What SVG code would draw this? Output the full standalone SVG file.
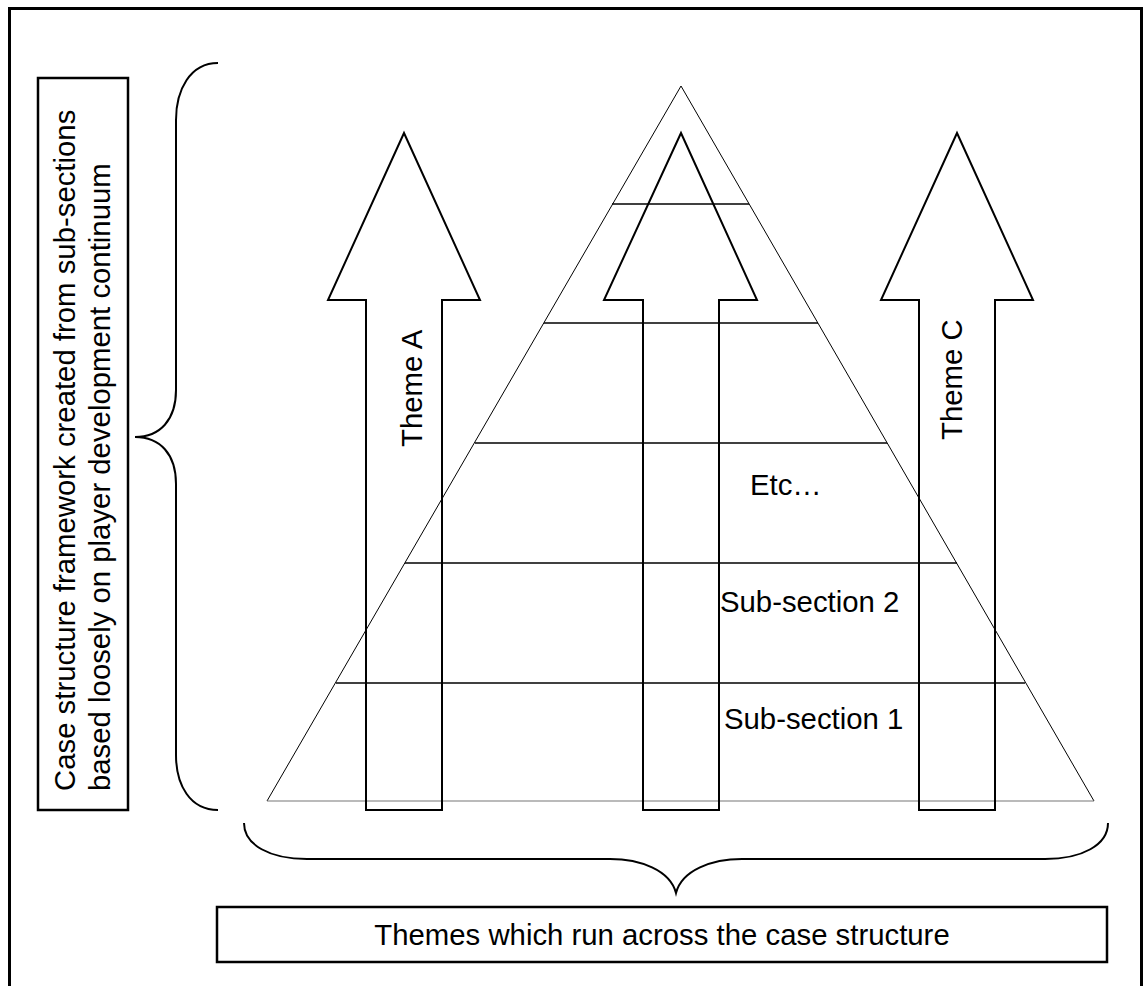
<svg xmlns="http://www.w3.org/2000/svg" width="1145" height="986" viewBox="0 0 1145 986">
<style>
.t{font-family:"Liberation Sans",Arial,sans-serif;font-size:29.33px;fill:#000}
.box{fill:#fff;stroke:#000;stroke-width:2.5}
.arrow{fill:none;stroke:#000;stroke-width:2}
.brace{fill:none;stroke:#000;stroke-width:2}
.tri{fill:none;stroke:#000;stroke-width:1}
.lvl{stroke:#000;stroke-width:1.6}
</style>
<rect x="0" y="0" width="1145" height="986" fill="#fff"/>
<rect id="frame" x="9.5" y="8.5" width="1132" height="1000" fill="none" stroke="#000" stroke-width="3"/>
<g id="pyramid">
  <polyline class="tri" points="267,801 681,86 1094,801"/>
  <line x1="267" y1="801" x2="1094" y2="801" stroke="#777" stroke-width="1.2"/>
  <line class="lvl" x1="612" y1="204" x2="749" y2="204"/>
  <line class="lvl" x1="544" y1="323" x2="818" y2="323"/>
  <line class="lvl" x1="475" y1="443" x2="887" y2="443"/>
  <line class="lvl" x1="405" y1="563" x2="957" y2="563"/>
  <line class="lvl" x1="336" y1="683" x2="1025" y2="683"/>
</g>
<g id="arrow-a">
  <polygon class="arrow" points="404,133 480,300 442,300 442,810 366,810 366,300 328,300"/>
  <text class="t" transform="translate(421.5,447) rotate(-90)">Theme A</text>
</g>
<g id="arrow-b">
  <polygon class="arrow" points="681,133 757,300 719,300 719,810 643,810 643,300 604,300"/>
</g>
<g id="arrow-c">
  <polygon class="arrow" points="957,133 1033,300 995,300 995,810 919,810 919,300 881,300"/>
  <text class="t" transform="translate(962,440) rotate(-90)">Theme C</text>
</g>
<g id="labels">
  <text class="t" x="750" y="495">Etc…</text>
  <text class="t" x="720" y="612">Sub-section 2</text>
  <text class="t" x="724" y="729">Sub-section 1</text>
</g>
<g id="connectors">
  <path class="brace" d="M218,63 C190,63 176,90 176,120 L176,390 C176,420 160,437 135,437 C160,437 176,454 176,484 L176,755 C176,785 190,810 218,810"/>
  <path class="brace" d="M244,823 C244,845 270,859 307,859 L610,859 C640,859 670,870 676,893 C682,870 712,859 742,859 L1045,859 C1082,859 1108,845 1108,823"/>
</g>
<g id="case-box">
  <rect class="box" x="38" y="78" width="90" height="732"/>
  <text class="t" transform="translate(75,791) rotate(-90)">Case structure framework created from sub-sections</text>
  <text class="t" transform="translate(110,791) rotate(-90)">based loosely on player development continuum</text>
</g>
<g id="themes-box">
  <rect class="box" x="217" y="907" width="890" height="55"/>
  <text class="t" x="662" y="945" text-anchor="middle">Themes which run across the case structure</text>
</g>
</svg>
